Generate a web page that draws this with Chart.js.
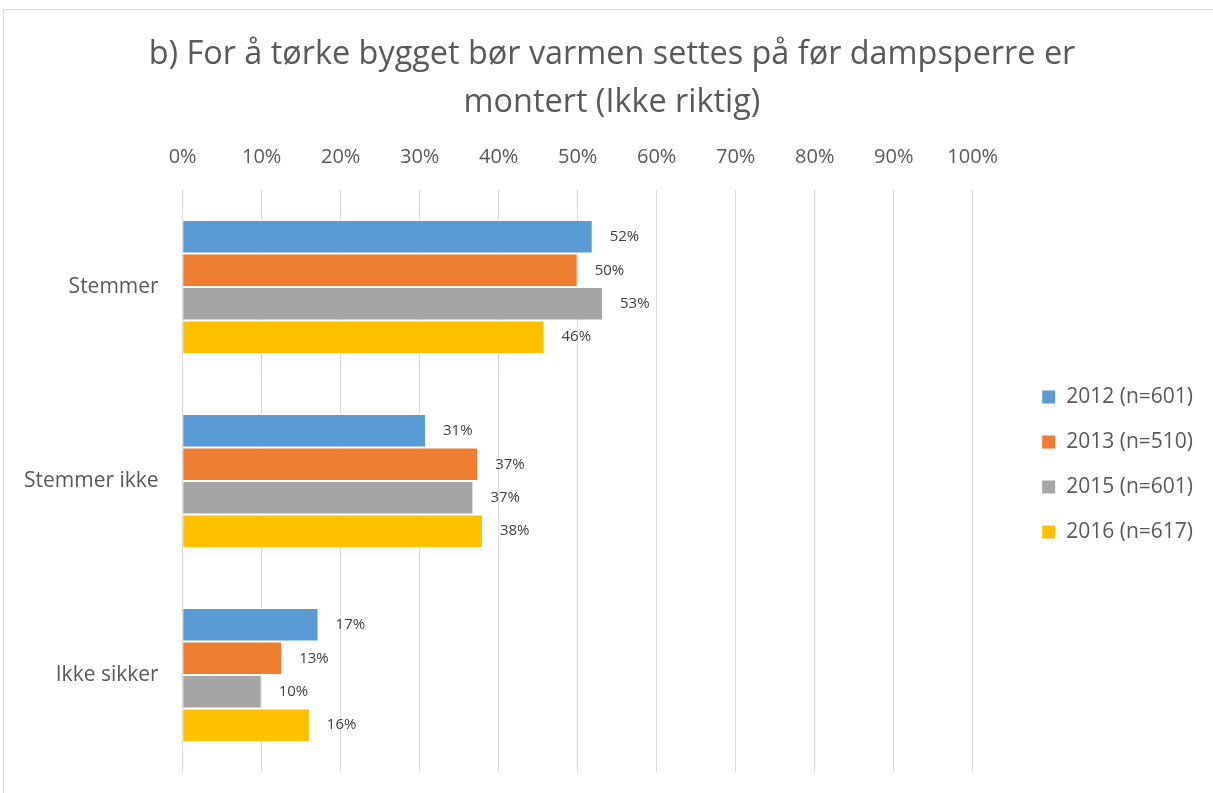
<!DOCTYPE html>
<html>
<head>
<meta charset="utf-8">
<script src="https://cdn.jsdelivr.net/npm/chart.js@4/dist/chart.umd.min.js"></script>
<style>
  body { margin: 0; background: #fff; overflow: hidden; }
  #wrap { position: relative; width: 1213px; height: 793px; }
  #frame { position: absolute; left: 3px; top: 9px; width: 1260px; height: 840px; border: 1px solid #d9d9d9; box-sizing: border-box; }
  canvas { position: absolute; left: 0; top: 0; }
</style>
</head>
<body>
<div id="wrap">
  <div id="frame"></div>
  <canvas id="chart" width="1213" height="793"></canvas>
</div>
<script>
const categories = ['Stemmer', 'Stemmer ikke', 'Ikke sikker'];
const seriesNames = ['2012 (n=601)', '2013 (n=510)', '2015 (n=601)', '2016 (n=617)'];
const values2012 = [51.9, 30.8, 17.2];
const values2013 = [50.0, 37.4, 12.6];
const values2015 = [53.2, 36.8, 10.0];
const values2016 = [45.8, 38.0, 16.1];
const colors = ['#5b9bd5', '#ed7d31', '#a5a5a5', '#ffc000'];

const font = "'Open Sans', sans-serif";
const textColor = '#595959';

// value labels to the right of each bar
const barLabels = {
    id: 'barLabels',
    afterDatasetsDraw(chart) {
        const ctx = chart.ctx;
        ctx.save();
        ctx.font = '15px ' + font;
        ctx.fillStyle = '#404040';
        ctx.textAlign = 'left';
        ctx.textBaseline = 'middle';
        chart.data.datasets.forEach((ds, i) => {
            chart.getDatasetMeta(i).data.forEach((bar, j) => {
                ctx.fillText(Math.round(ds.data[j]) + '%', bar.x + 17, bar.y);
            });
        });
        ctx.restore();
    }
};

// move legend and title so they sit like the original
const boxShift = {
    id: 'boxShift',
    afterLayout(chart) {
        const lg = chart.legend;
        if (lg) {
            lg.left += 45; lg.right += 45;
            lg.top += 69; lg.bottom += 69;
        }
        const tb = chart.titleBlock;
        if (tb) { tb.left += 33; tb.right += 33; }
    }
};

new Chart(document.getElementById('chart'), {
    type: 'bar',
    data: {
        labels: categories,
        datasets: [values2012, values2013, values2015, values2016].map((d, i) => ({
            label: seriesNames[i],
            data: d,
            backgroundColor: colors[i],
            borderColor: '#ffffff',
            borderWidth: 1,
            categoryPercentage: 0.69,
            barPercentage: 1.0
        }))
    },
    options: {
        indexAxis: 'y',
        responsive: false,
        animation: false,
        layout: { padding: { left: 0, right: 55, top: 19, bottom: 21 } },
        plugins: {
            title: {
                display: true,
                text: ['b) For å tørke bygget bør varmen settes på før dampsperre er', 'montert (Ikke riktig)'],
                color: textColor,
                font: { family: font, size: 32.4, weight: 'normal', lineHeight: 48 / 32.4 },
                padding: { top: 12, bottom: -3 }
            },
            legend: {
                position: 'right',
                labels: {
                    color: textColor,
                    font: { family: font, size: 21 },
                    boxWidth: 14,
                    boxHeight: 14,
                    padding: 24
                }
            },
            tooltip: { enabled: false }
        },
        scales: {
            x: {
                position: 'top',
                min: 0,
                max: 100,
                ticks: {
                    stepSize: 10,
                    color: textColor,
                    font: { family: font, size: 20 },
                    padding: 21,
                    callback: v => v + '%'
                },
                grid: { color: '#d9d9d9', lineWidth: 1, drawTicks: false },
                border: { display: false }
            },
            y: {
                ticks: {
                    color: textColor,
                    font: { family: font, size: 21 },
                    padding: 24
                },
                grid: { display: false, drawTicks: false },
                border: { display: false },
                afterFit(scale) {
                    scale.paddingTop = 0;
                    scale.paddingBottom = 0;
                }
            }
        }
    },
    plugins: [barLabels, boxShift]
});
</script>
</body>
</html>
